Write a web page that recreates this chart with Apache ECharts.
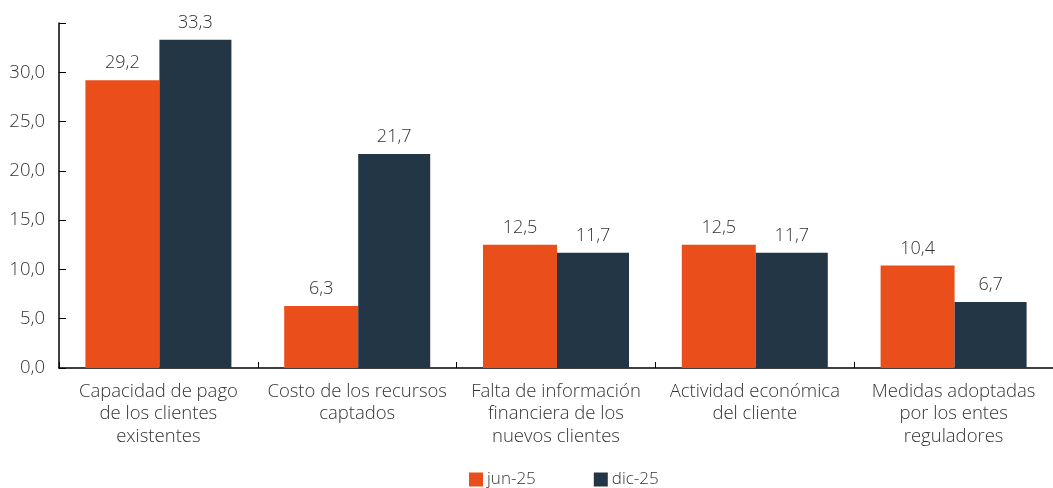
<!DOCTYPE html>
<html><head><meta charset="utf-8">
<script src="https://cdn.jsdelivr.net/npm/echarts@6/dist/echarts.min.js"></script>
<style>html,body{margin:0;padding:0;background:#fff}#c{width:1053px;height:488px}</style>
</head><body><div id="c"></div>
<script>
const categories = ["Capacidad de pago\nde los clientes\nexistentes","Costo de los recursos\ncaptados","Falta de información\nfinanciera de los\nnuevos clientes","Actividad económica\ndel cliente","Medidas adoptadas\npor los entes\nreguladores"];
const jun25 = [29.2, 6.3, 12.5, 12.5, 10.4];
const dic25 = [33.3, 21.7, 11.7, 11.7, 6.7];
const seriesNames = ["jun-25", "dic-25"];
const fmt = v => v.toFixed(1).replace('.', ',');
const font = '"Open Sans", "Noto Sans", sans-serif';
const txt = '#333333';
const fw = 300;
const chart = echarts.init(document.getElementById('c'));
chart.setOption({
  animation: false,
  textStyle: {fontFamily: font, fontWeight: fw},
  grid: {left: 59, right: -3, top: 23, bottom: 120},
  legend: {
    bottom: -5, left: 464, itemWidth: 14, itemHeight: 14, itemGap: 58,
    icon: 'rect',
    textStyle: {fontFamily: font, fontWeight: fw, fontSize: 17, color: txt, padding: [0, 0, 0, -1]},
    data: seriesNames
  },
  xAxis: {
    type: 'category', data: categories,
    axisLine: {lineStyle: {color: '#000', width: 1.5}},
    axisTick: {show: true, lineStyle: {color: '#000'}, length: 6, inside: true},
    axisLabel: {fontFamily: font, fontWeight: fw, fontSize: 18.5, color: txt, lineHeight: 22.5, margin: 12, interval: 0}
  },
  yAxis: {
    type: 'value', min: 0, max: 35, interval: 5,
    splitLine: {show: false},
    axisLine: {show: true, lineStyle: {color: '#000', width: 1.5}},
    axisTick: {show: true, inside: true, length: 7, lineStyle: {color: '#000'}},
    axisLabel: {fontFamily: font, fontWeight: fw, fontSize: 18.5, color: txt, margin: 14,
      formatter: v => v >= 35 ? '' : fmt(v)}
  },
  series: [
    {name: seriesNames[0], type: 'bar', data: jun25, barWidth: 74, barGap: '0%',
     itemStyle: {color: '#E94E1B'},
     label: {show: true, position: 'top', distance: 8, fontFamily: font, fontWeight: fw, fontSize: 18, color: txt, formatter: p => fmt(p.value)}},
    {name: seriesNames[1], type: 'bar', data: dic25, barWidth: 72,
     itemStyle: {color: '#223646'},
     label: {show: true, position: 'top', distance: 8, fontFamily: font, fontWeight: fw, fontSize: 18, color: txt, formatter: p => fmt(p.value)}}
  ]
});
</script></body></html>
